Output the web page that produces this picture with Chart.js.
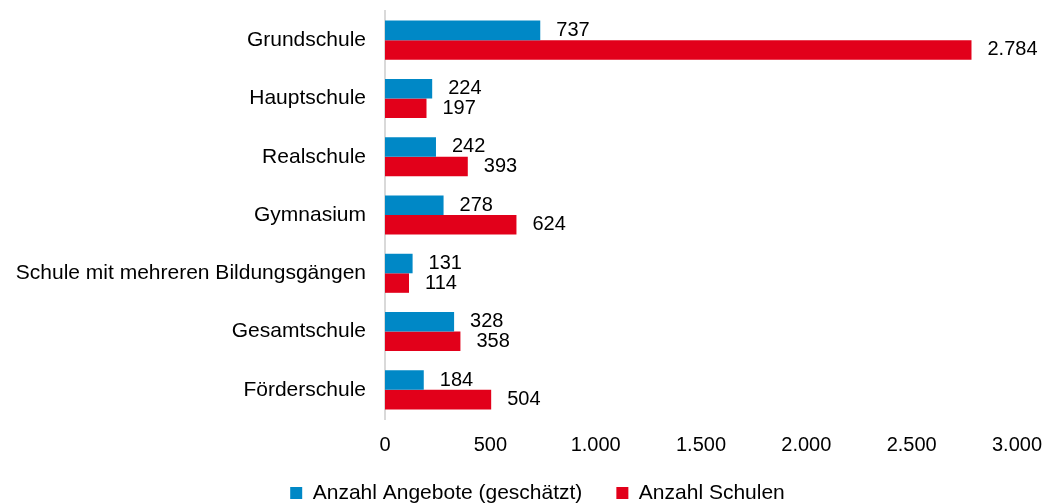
<!DOCTYPE html>
<html>
<head>
<meta charset="utf-8">
<script src="https://cdn.jsdelivr.net/npm/chart.js@4/dist/chart.umd.min.js"></script>
<style>
  body { margin: 0; background: #fff; }
  #wrap { width: 1051px; height: 504px; }
</style>
</head>
<body>
<div id="wrap"><canvas id="schulChart"></canvas></div>
<script>
const categories = ['Grundschule', 'Hauptschule', 'Realschule', 'Gymnasium',
  'Schule mit mehreren Bildungsgängen', 'Gesamtschule', 'Förderschule'];
const angebote = [737, 224, 242, 278, 131, 328, 184];
const schulen = [2784, 197, 393, 624, 114, 358, 504];
const xTicks = [0, 500, 1000, 1500, 2000, 2500, 3000];

const FONT = "'Liberation Sans', Arial, sans-serif";

// 1000 -> "1.000"
function fmt(v) {
  return String(v).replace(/\B(?=(\d{3})+(?!\d))/g, '.');
}

// values at the end of each bar
const barLabels = {
  id: 'barLabels',
  afterDatasetsDraw(chart) {
    const ctx = chart.ctx;
    ctx.save();
    ctx.font = '20px ' + FONT;
    ctx.fillStyle = '#000';
    ctx.textAlign = 'left';
    ctx.textBaseline = 'middle';
    chart.data.datasets.forEach((ds, i) => {
      chart.getDatasetMeta(i).data.forEach((bar, j) => {
        ctx.fillText(fmt(ds.data[j]), bar.x + 16, bar.y);
      });
    });
    ctx.restore();
  }
};

// legend sits a bit right of centre and close to the bottom in the original
const legendShift = {
  id: 'legendShift',
  afterLayout(chart) {
    const lg = chart.legend;
    lg.left += 29;
    lg.right += 29;
    lg.top -= 10.5;
    lg.bottom -= 10.5;
  }
};

const ctx = document.getElementById('schulChart');

new Chart(ctx, {
  type: 'bar',
  data: {
    labels: categories,
    datasets: [
      {
        label: 'Anzahl Angebote (geschätzt)',
        data: angebote,
        backgroundColor: '#0088c6',
        barPercentage: 1,
        categoryPercentage: 0.67
      },
      {
        label: 'Anzahl Schulen',
        data: schulen,
        backgroundColor: '#e2001a',
        barPercentage: 1,
        categoryPercentage: 0.67
      }
    ]
  },
  options: {
    indexAxis: 'y',
    responsive: true,
    maintainAspectRatio: false,
    animation: false,
    layout: { padding: { top: 11, right: 34, bottom: -20, left: 0 } },
    scales: {
      x: {
        min: 0,
        max: 3000,
        afterBuildTicks(scale) {
          scale.ticks = xTicks.map(v => ({ value: v }));
        },
        afterFit(scale) {
          scale.height = 40;
          scale.paddingLeft = 0;
          scale.paddingRight = 0;
        },
        grid: { display: false, drawTicks: false },
        border: { display: false },
        ticks: {
          padding: 14,
          color: '#000',
          font: { family: FONT, size: 20 },
          callback: v => fmt(v)
        }
      },
      y: {
        afterFit(scale) {
          scale.width = 385;
          scale.paddingTop = 0;
          scale.paddingBottom = 0;
        },
        grid: { display: false, drawTicks: false },
        border: { display: true, color: '#d9d9d9', width: 2 },
        ticks: {
          padding: 19,
          color: '#000',
          font: { family: FONT, size: 21 }
        }
      }
    },
    plugins: {
      tooltip: { enabled: false },
      legend: {
        position: 'bottom',
        labels: {
          boxWidth: 12,
          boxHeight: 12,
          padding: 34,
          color: '#000',
          font: { family: FONT, size: 21 }
        }
      }
    }
  },
  plugins: [barLabels, legendShift]
});
</script>
</body>
</html>
